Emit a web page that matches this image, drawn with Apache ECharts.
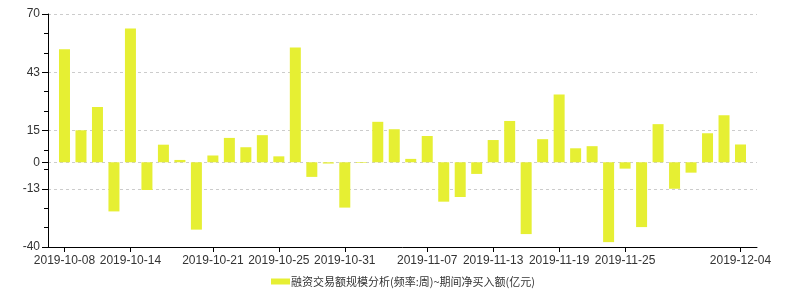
<!DOCTYPE html>
<html>
<head>
<meta charset="utf-8">
<script src="https://cdn.jsdelivr.net/npm/echarts@6/dist/echarts.min.js"></script>
<style>
html,body{margin:0;padding:0;background:#fff;}
#chart{width:792px;height:306px;}
</style>
</head>
<body>
<div id="chart"></div>
<script>
var dates = ['2019-10-08','2019-10-09','2019-10-10','2019-10-11','2019-10-14','2019-10-15','2019-10-16','2019-10-17','2019-10-18',
 '2019-10-21','2019-10-22','2019-10-23','2019-10-24','2019-10-25','2019-10-28','2019-10-29','2019-10-30','2019-10-31',
 '2019-11-01','2019-11-04','2019-11-05','2019-11-06','2019-11-07','2019-11-08','2019-11-11','2019-11-12','2019-11-13',
 '2019-11-14','2019-11-15','2019-11-18','2019-11-19','2019-11-20','2019-11-21','2019-11-22','2019-11-25','2019-11-26',
 '2019-11-27','2019-11-28','2019-11-29','2019-12-02','2019-12-03','2019-12-04'];
var netBuy = [53.3,15.1,26.1,-23.2,63.2,-13.1,8.3,1.1,-31.8,3.2,11.5,7.1,12.8,2.8,54.2,-6.9,-0.6,-21.4,-0.3,19.1,15.6,1.6,
 12.4,-18.6,-16.4,-5.5,10.5,19.5,-33.9,10.9,32.0,6.6,7.6,-37.7,-3.0,-30.6,18.0,-12.5,-4.9,13.7,22.2,8.4];
var xTickLabels = ['2019-10-08','2019-10-14','2019-10-21','2019-10-25','2019-10-31','2019-11-07','2019-11-13','2019-11-19','2019-11-25','2019-12-04'];
var yTickValues = [-40,-12.5,0,15,42.5,70];
var seriesName = '融资交易额规模分析(频率:周)~期间净买入额(亿元)';

// pad one empty slot on each side so bars sit one step in from the axis ends
var cats = [''].concat(dates).concat(['']);
var vals = [null].concat(netBuy).concat([null]);
var showSet = {};
xTickLabels.forEach(function(d){ showSet[d] = true; });
function showFn(idx, val){ return !!showSet[val]; }

var chart = echarts.init(document.getElementById('chart'));
chart.setOption({
  animation: false,
  textStyle: {fontFamily: 'Liberation Sans, Arial, sans-serif'},
  grid: {left: 48, right: 35, top: 14, bottom: 59},
  legend: {
    left: 266, top: 271,
    icon: 'rect', itemWidth: 19, itemHeight: 6,
    textStyle: {fontSize: 11, color: '#333', fontFamily: 'Noto Sans CJK SC', padding: [0,0,0,-4]},
    data: [seriesName]
  },
  xAxis: {
    type: 'category', data: cats, boundaryGap: false,
    axisLine: {onZero: false, lineStyle: {color: '#000', width: 1}},
    axisTick: {show: true, interval: showFn, length: 5, lineStyle: {color: '#000'}},
    axisLabel: {interval: showFn, color: '#333', fontSize: 12, margin: 8},
    splitLine: {show: false}
  },
  yAxis: {
    type: 'value', position: 'left', min: -40, max: 70, interval: 27.5,
    axisLine: {show: true, onZero: false, lineStyle: {color: '#000', width: 1}},
    axisTick: {show: true, length: 6, customValues: yTickValues, lineStyle: {color: '#000'}},
    minorTick: {show: true, splitNumber: 3, length: 4, lineStyle: {color: '#000'}},
    axisLabel: {
      customValues: yTickValues, color: '#333', fontSize: 12, margin: 8,
      formatter: function(v){ return String(Math.sign(v) * Math.round(Math.abs(v))); }
    },
    splitLine: {show: true, lineStyle: {color: '#cccccc', type: [3,3]}}
  },
  series: [{
    name: seriesName, type: 'bar', data: vals, barWidth: 11,
    itemStyle: {color: '#e6ef33'}
  }]
});
</script>
</body>
</html>
